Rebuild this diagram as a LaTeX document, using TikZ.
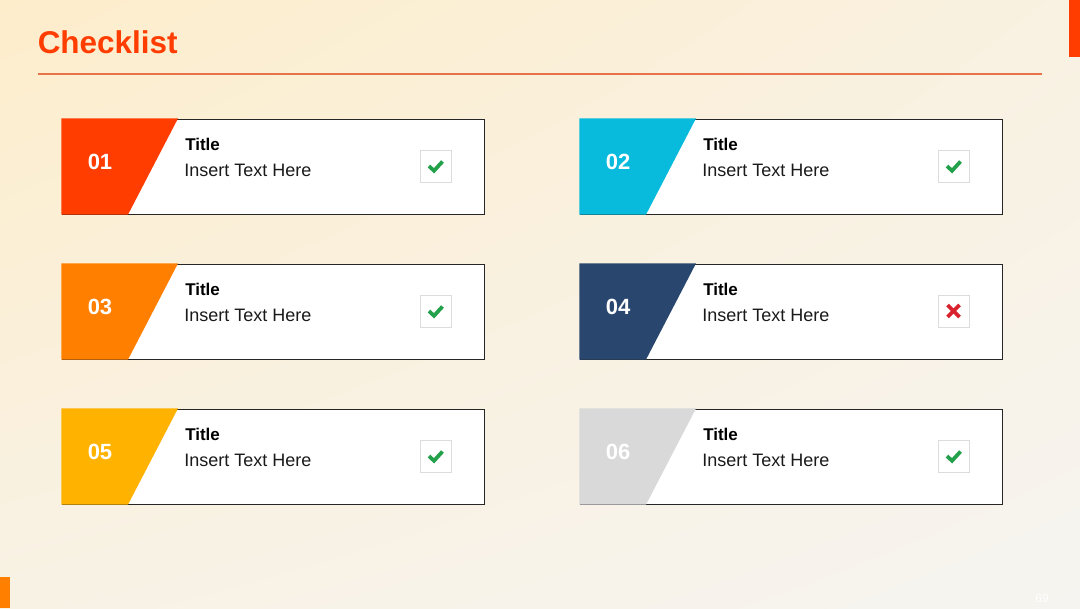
\documentclass[tikz,border=0pt]{standalone}
\usepackage{fontspec}
\setmainfont{Liberation Sans}
\usetikzlibrary{shadings}
\definecolor{bgA}{HTML}{FDEDCB}
\definecolor{bgB}{HTML}{F6F4F0}
\definecolor{cOne}{HTML}{FF3D00}
\definecolor{cTwo}{HTML}{08BBDD}
\definecolor{cThree}{HTML}{FF7F00}
\definecolor{cFour}{HTML}{29476E}
\definecolor{cFive}{HTML}{FFB300}
\definecolor{cSix}{HTML}{D9D9D9}
\definecolor{rule}{HTML}{E8734A}
\definecolor{okgreen}{HTML}{23A04A}
\definecolor{nored}{HTML}{D8232E}
\definecolor{boxgray}{HTML}{DCDCDC}
\definecolor{ink}{HTML}{1A1A1A}
\tikzset{
  cardframe/.style={fill=white,draw=black!85,line width=0.75},
  numtext/.style={text=white,font=\fontsize{16.5}{18}\selectfont\bfseries,anchor=center},
  titletext/.style={text=black,font=\fontsize{12.75}{14}\selectfont\bfseries,anchor=west,inner sep=0},
  bodytext/.style={text=ink,font=\fontsize{13.5}{15}\selectfont,anchor=west,inner sep=0},
  markbox/.style={draw=boxgray,fill=white,line width=0.6,minimum width=23.25pt,minimum height=24pt,inner sep=0},
  okmark/.style={draw=okgreen,line width=2.8,line cap=butt,line join=miter},
  nomark/.style={draw=nored,line width=2.8},
}
% #1 = left x, #2 = top y, #3 = colour, #4 = number, #5 = id, #6 = ok/no
\newcommand\mycard[6]{%
  \draw[cardframe] (#1,#2) rectangle ++(422,95);
  \fill[#3] (#1-0.6,#2-0.6) -- ++(116.6,0) -- ++(-50,96.2) -- ++(-66.6,0) -- cycle;
  \node[numtext] (num#5) at (#1+38,#2+43) {#4};
  \node[titletext] (title#5) at (#1+123,#2+25) {Title};
  \node[bodytext] (body#5) at (#1+122,#2+51) {Insert Text Here};
  \node[markbox] (box#5) at (#1+373.5,#2+47) {};
  \ifx#6o
    \draw[okmark] ([shift={(-6.5,0)}]box#5.center) -- ([shift={(-1.5,4.8)}]box#5.center) -- ([shift={(7,-4.5)}]box#5.center);
  \else
    \draw[nomark] ([shift={(-6,-6)}]box#5.center) -- ([shift={(6,6)}]box#5.center);
    \draw[nomark] ([shift={(-6,6)}]box#5.center) -- ([shift={(6,-6)}]box#5.center);
  \fi
}
\begin{document}
\begin{tikzpicture}[x=0.75pt,y=-0.75pt]
\useasboundingbox (0,0) rectangle (1080,608);
\shade[upper left=bgA,upper right=bgB!60!bgA,lower left=bgB!70!bgA,lower right=bgB] (0,0) rectangle (1080,608);
\fill[cOne] (1069,0) rectangle (1080,57);
\fill[cThree] (0,577) rectangle (10,608);
\node[anchor=west,inner sep=0,text=cOne,font=\fontsize{23.6}{26}\selectfont\bfseries] (heading) at (37.5,42) {Checklist};
\draw[rule,line width=0.8] (38,74) coordinate (ruleL) -- (1042,74) coordinate (ruleR);
\mycard{62}{119}{cOne}{01}{a}{o}
\mycard{580}{119}{cTwo}{02}{b}{o}
\mycard{62}{264}{cThree}{03}{c}{o}
\mycard{580}{264}{cFour}{04}{d}{n}
\mycard{62}{409}{cFive}{05}{e}{o}
\mycard{580}{409}{cSix}{06}{f}{o}
\node[text=white,font=\fontsize{9}{10}\selectfont] (page) at (1042,598) {69};
\end{tikzpicture}
\end{document}
